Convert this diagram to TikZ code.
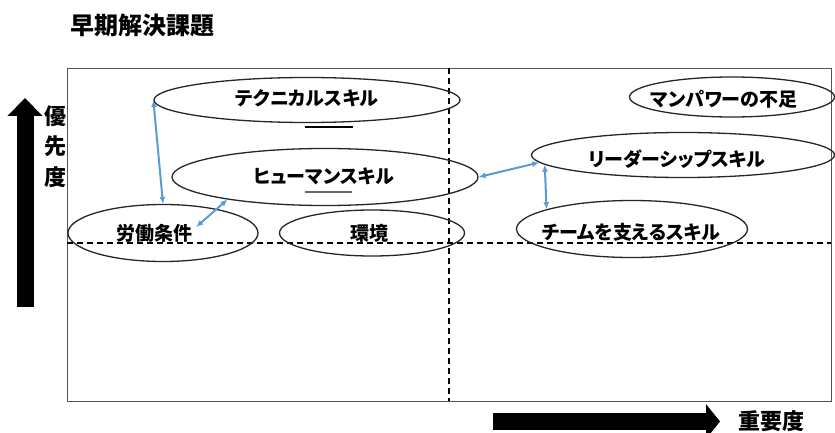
\documentclass[tikz,border=0pt]{standalone}
\usepackage{fontspec}
\newfontfamily\jp[RawFeature=+palt]{Noto Sans CJK JP}
\usetikzlibrary{shapes.geometric,arrows.meta,calc}
\definecolor{linkblue}{HTML}{5B9BD5}
\definecolor{framegray}{HTML}{555555}
\begin{document}
\begin{tikzpicture}[x=1pt,y=-1pt,
  ell/.style={ellipse,draw=black!85,line width=1.3pt,inner sep=0pt},
  lbl/.style={font={\jp\bfseries\fontsize{19pt}{19pt}\selectfont},inner sep=0pt},
  axislbl/.style={font={\jp\bfseries\fontsize{22pt}{22pt}\selectfont},inner sep=0pt},
  link/.style={draw=linkblue,line width=2pt,{Latex[length=7pt,width=6pt]}-{Latex[length=7pt,width=6pt]}},
  dashline/.style={line width=1.2pt,dash pattern=on 6pt off 4pt}
]
\useasboundingbox (0,0) rectangle (835,433);

% title
\node[font={\jp\bfseries\fontsize{24pt}{24pt}\selectfont},inner sep=0pt] (title) at (142,25) {早期解決課題};

% frame
\node[draw=framegray,line width=1.4pt,minimum width=764pt,minimum height=333pt,inner sep=0pt,anchor=north west] (frame) at (67,68) {};

% quadrant dashed lines
\coordinate (vt) at (449,68);
\coordinate (vb) at (449,401);
\coordinate (hl) at (67,243);
\coordinate (hr) at (831,243);
\draw[dashline] (vt) -- (vb);
\draw[dashline] (hl) -- (hr);

% ellipses
\node[ell,minimum width=306pt,minimum height=45pt] (tech) at (307,100) {};
\node[ell,minimum width=306pt,minimum height=57pt] (human) at (325,177) {};
\node[ell,minimum width=190pt,minimum height=57pt] (labor) at (163,233) {};
\node[ell,minimum width=185pt,minimum height=46pt] (env) at (372,233) {};
\node[ell,minimum width=205pt,minimum height=40pt] (manp) at (732,97) {};
\node[ell,minimum width=303pt,minimum height=45pt] (leader) at (683,155) {};
\node[ell,minimum width=231pt,minimum height=57pt] (team) at (632,229) {};

% labels
\node[lbl] (techl) at (307,98) {テクニカルスキル};
\node[lbl] (humanl) at (324,176) {ヒューマンスキル};
\node[lbl] (laborl) at (154,233) {労働条件};
\node[lbl] (envl) at (369,233) {環境};
\node[lbl] (manpl) at (724,99) {マンパワーの不足};
\node[lbl] (leaderl) at (677,159) {リーダーシップスキル};
\node[lbl] (teaml) at (631,232) {チームを支えるスキル};

% underlines (picture y grows downward)
\coordinate (u1a) at ($(tech.south)+(-2,3.5)$);
\coordinate (u1b) at ($(tech.south)+(46,3.5)$);
\draw[line width=2pt,black] (u1a) -- (u1b);
\coordinate (u2a) at ($(human.south)+(-20,-14.5)$);
\coordinate (u2b) at ($(human.south)+(27,-14.5)$);
\draw[line width=1.8pt,black!60] (u2a) -- (u2b);

% blue links
\draw[link] (tech.west) -- (labor.north);
\draw[link] ([shift={(4,-6)}]laborl.east) -- (human.193.7);
\draw[link] (human.east) -- (leader.183);
\draw[link] (leader.184.2) -- (team.167.2);

% vertical axis
\coordinate (ua0) at (25,307);
\coordinate (ua1) at (25,98);
\draw[line width=17pt,-{Triangle[length=18pt,width=34pt]}] (ua0) -- (ua1);
\begin{scope}
  \clip (0,0) rectangle (66,433);
  \node[axislbl] (y1) at (55,116) {優};
  \node[axislbl] (y2) at (55,146) {先};
  \node[axislbl] (y3) at (55,177) {度};
\end{scope}

% horizontal axis
\coordinate (ra0) at (493,421.5);
\coordinate (ra1) at (720,421.5);
\draw[line width=17pt,-{Triangle[length=14pt,width=34pt]}] (ra0) -- (ra1);
\node[axislbl] (xlbl) at (771,421) {重要度};
\end{tikzpicture}
\end{document}
